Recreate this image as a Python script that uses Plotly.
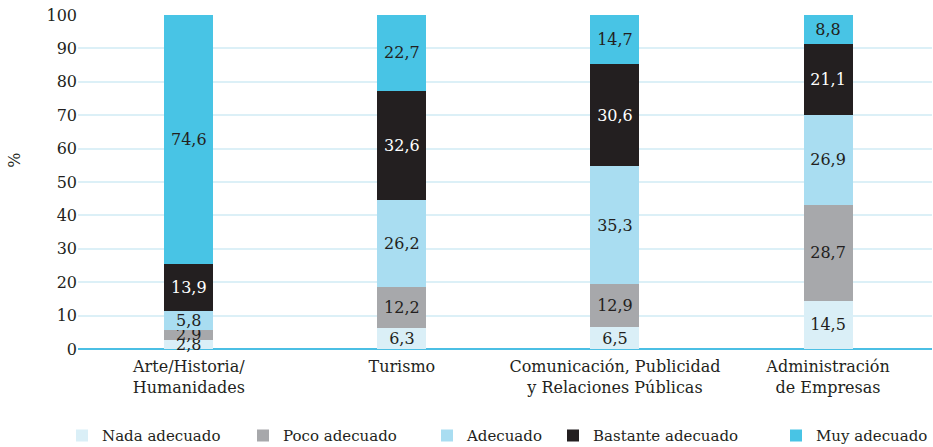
import plotly.graph_objects as go

categories = ["Arte/Historia/<br>Humanidades", "Turismo",
              "Comunicación, Publicidad<br>y Relaciones Públicas",
              "Administración<br>de Empresas"]
series_names = ["Nada adecuado", "Poco adecuado", "Adecuado", "Bastante adecuado", "Muy adecuado"]
nada = [2.8, 6.3, 6.5, 14.5]
poco = [2.9, 12.2, 12.9, 28.7]
adecuado = [5.8, 26.2, 35.3, 26.9]
bastante = [13.9, 32.6, 30.6, 21.1]
muy = [74.6, 22.7, 14.7, 8.8]
y_ticks = list(range(0, 101, 10))

colors = ["#daeff7", "#a7a8ab", "#a9ddf1", "#231f20", "#48c4e5"]
text_colors = ["#231f20", "#231f20", "#231f20", "#ffffff", "#231f20"]
FONT = "DejaVu Serif, Liberation Serif, serif"

W, H = 933, 447
legend_left_px = [62, 243, 427, 553, 776]  # left edge of each legend entry (px)
legend_ids = ["legend", "legend2", "legend3", "legend4", "legend5"]

fig = go.Figure()
for name, vals, c, tc, lid in zip(series_names, [nada, poco, adecuado, bastante, muy],
                                  colors, text_colors, legend_ids):
    fig.add_trace(go.Bar(
        x=categories, y=vals, name=name, legend=lid, showlegend=True,
        marker=dict(color=c, line=dict(width=0)),
        texttemplate="%{y:.1f}", textposition="inside", insidetextanchor="middle",
        textfont=dict(family=FONT, size=16, color=tc),
        constraintext="none", cliponaxis=False,
    ))

legend_layout = {}
for lid, lx in zip(legend_ids, legend_left_px):
    legend_layout[lid] = dict(orientation="h", xref="container", x=lx / W, xanchor="left",
                              yref="paper", y=-0.21, yanchor="top",
                              font=dict(family=FONT, size=15, color="#231f20"),
                              itemwidth=30, bgcolor="rgba(0,0,0,0)", visible=True)

fig.update_layout(
    barmode="stack", bargap=0.77,
    separators=",.",
    width=W, height=H,
    margin=dict(l=78, r=1, t=15, b=98, autoexpand=False),
    plot_bgcolor="white", paper_bgcolor="white",
    font=dict(family=FONT, size=16, color="#231f20"),
    uniformtext=dict(minsize=16, mode="show"),
    xaxis=dict(showgrid=False, ticks="", tickfont=dict(size=16, color="#231f20"),
               showline=False, range=[-0.52, 3.488], ticklabelstandoff=6),
    yaxis=dict(range=[0, 100.001], tickvals=y_ticks, showgrid=True, gridcolor="#dcf0f7",
               gridwidth=1.5, zeroline=True, zerolinecolor="#4bbfe4", zerolinewidth=2,
               ticks="", ticklabeloverflow="allow", tickfont=dict(size=16, color="#231f20")),
    annotations=[dict(text="%", xref="paper", yref="paper", x=-0.074, y=0.566,
                      xanchor="center", yanchor="middle", textangle=-90, showarrow=False,
                      font=dict(family=FONT, size=16, color="#231f20"))],
    **legend_layout,
)

fig.write_html("out.html", config={"displayModeBar": False},
               post_script="document.body.style.margin='0';")
